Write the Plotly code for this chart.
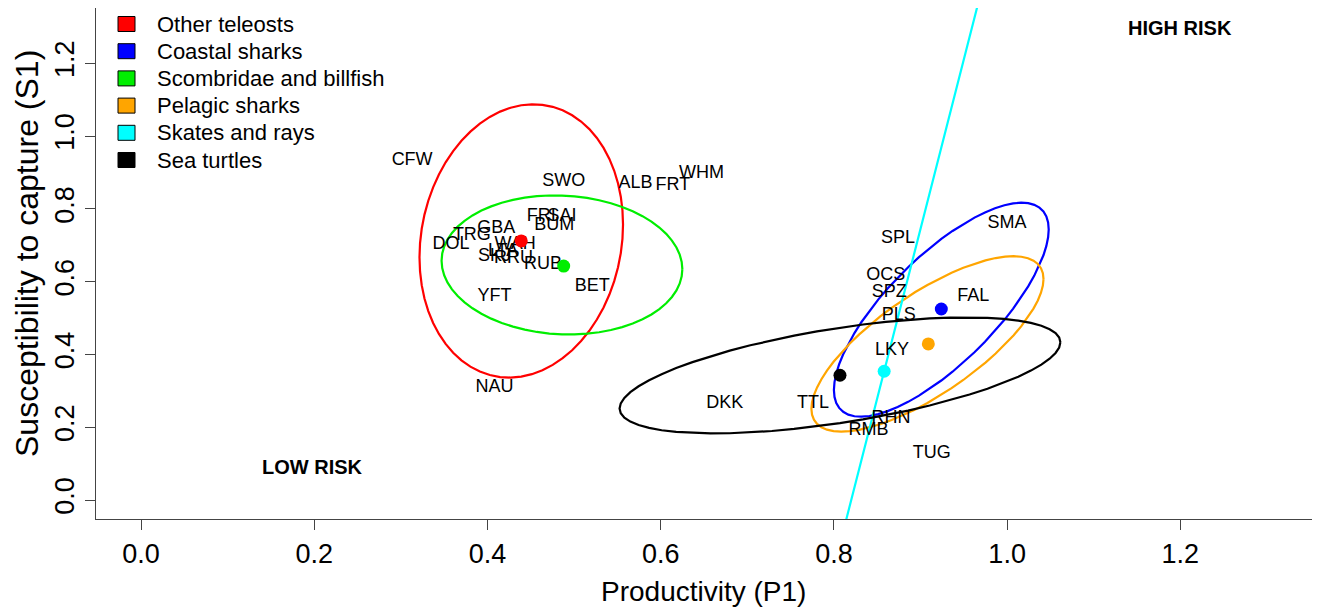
import numpy as np
import plotly.graph_objects as go

# ---------------- data ----------------
groups = ["Other teleosts", "Coastal sharks", "Scombridae and billfish",
          "Pelagic sharks", "Skates and rays", "Sea turtles"]
group_colors = ["#FF0000", "#0000FF", "#00EE00", "#FFA500", "#00FFFF", "#000000"]
mean_p = [0.439, 0.924, 0.488, 0.909, 0.858, 0.807]
mean_s = [0.712, 0.525, 0.643, 0.429, 0.354, 0.343]

# ellipse parameters (spread in P, spread in S, correlation)
ell_sx = [0.1175, 0.124, 0.139, 0.134, 0.16, 0.2545]
ell_sy = [0.3755, 0.294, 0.191, 0.241, 1.49, 0.1595]
ell_r = [0.12, 0.75, -0.06, 0.74, 1.0, 0.57]
ell_cx = [0.439, 0.924, 0.486, 0.908, 0.858, 0.807]
ell_cy = [0.712, 0.523, 0.646, 0.429, 0.354, 0.3425]

species = ["CFW", "SWO", "ALB", "FRT", "WHM", "FRI", "SAI", "BUM", "GBA", "TRG",
           "DOL", "WAH", "LTA", "SKJ", "RRU", "RUB", "YFT", "BET", "NAU", "DKK",
           "TTL", "SPL", "SMA", "OCS", "SPZ", "FAL", "PLS", "LKY", "RHN", "RMB", "TUG"]
prod = [0.313, 0.488, 0.571, 0.614, 0.647, 0.462, 0.486, 0.477, 0.410, 0.382,
        0.358, 0.432, 0.418, 0.408, 0.430, 0.464, 0.408, 0.521, 0.408, 0.674,
        0.776, 0.874, 1.000, 0.860, 0.864, 0.961, 0.875, 0.867, 0.866, 0.840, 0.913]
susc = [0.934, 0.874, 0.871, 0.863, 0.898, 0.778, 0.780, 0.755, 0.745, 0.728,
        0.701, 0.703, 0.684, 0.668, 0.665, 0.646, 0.560, 0.588, 0.310, 0.264,
        0.266, 0.720, 0.761, 0.618, 0.571, 0.558, 0.508, 0.412, 0.225, 0.192, 0.129]

ticks = [0.0, 0.2, 0.4, 0.6, 0.8, 1.0, 1.2]
tick_text = ["0.0", "0.2", "0.4", "0.6", "0.8", "1.0", "1.2"]
risk_labels = ["LOW RISK", "HIGH RISK"]
risk_p = [0.198, 1.200]
risk_s = [0.091, 1.297]

FONT = "Liberation Sans, Arial, Helvetica, sans-serif"
OFF = 8                      # default page body margin
W, H = 1320 - OFF, 614 - OFF
ML, MR, MT, MB = 96 - OFF, 8, 8 - OFF, 95
PW, PH = W - ML - MR, H - MT - MB
PLOT_LEFT = OFF + ML          # page pixel of plot left edge
PLOT_BOTTOM = OFF + H - MB    # page pixel of plot bottom edge


def px_to_paper_x(px):
    return (px - PLOT_LEFT) / PW


def py_to_paper_y(py):
    return (PLOT_BOTTOM - py) / PH


fig = go.Figure()

# ellipses
t = np.linspace(0, 2 * np.pi, 61)
for i in range(len(groups)):
    phi = np.arccos(ell_r[i])
    ex = ell_cx[i] + ell_sx[i] * np.cos(t)
    ey = ell_cy[i] + ell_sy[i] * np.cos(t - phi)
    fig.add_trace(go.Scatter(x=ex, y=ey, mode="lines",
                             line=dict(color=group_colors[i], width=2.2),
                             showlegend=False, hoverinfo="skip"))

# species labels
fig.add_trace(go.Scatter(x=prod, y=susc, mode="text", text=species,
                         textposition="middle center",
                         textfont=dict(family=FONT, size=18, color="#000000"),
                         showlegend=False))

# group means
for i in range(len(groups)):
    fig.add_trace(go.Scatter(x=[mean_p[i]], y=[mean_s[i]], mode="markers",
                             marker=dict(color=group_colors[i], size=13, line=dict(width=0)),
                             name=groups[i], showlegend=False))

# risk annotations
for lab, px, py in zip(risk_labels, risk_p, risk_s):
    fig.add_annotation(x=px, y=py, text="<b>" + lab + "</b>", showarrow=False,
                       font=dict(family=FONT, size=20, color="#000000"),
                       xanchor="center", yanchor="middle")

# manual legend (R style)
shapes = []
for i, g in enumerate(groups):
    cy_px = 24 + 27.2 * i
    shapes.append(dict(type="rect", xref="paper", yref="paper",
                       x0=px_to_paper_x(118), x1=px_to_paper_x(135),
                       y0=py_to_paper_y(cy_px + 7.5), y1=py_to_paper_y(cy_px - 7.5),
                       fillcolor=group_colors[i], line=dict(color="#000000", width=1)))
    fig.add_annotation(xref="paper", yref="paper", x=px_to_paper_x(155),
                       y=py_to_paper_y(cy_px), text=g, showarrow=False,
                       xanchor="left", yanchor="middle",
                       font=dict(family=FONT, size=22, color="#000000"))

# axis titles
fig.add_annotation(xref="paper", yref="paper", x=px_to_paper_x(703), y=py_to_paper_y(591),
                   text="Productivity (P1)", showarrow=False, xanchor="center", yanchor="middle",
                   font=dict(family=FONT, size=28, color="#000000"))
fig.add_annotation(xref="paper", yref="paper", x=px_to_paper_x(27), y=py_to_paper_y(254),
                   text="Susceptibility to capture (S1)", showarrow=False, textangle=-90,
                   xanchor="center", yanchor="middle",
                   font=dict(family=FONT, size=32, color="#000000"))

axis_common = dict(showgrid=False, zeroline=False, showline=True, mirror=True,
                   linecolor="#444444", linewidth=1.2, ticks="outside", ticklen=10,
                   tickcolor="#444444", tickwidth=1, tickvals=ticks, ticktext=tick_text,
                   tickfont=dict(family=FONT, size=27, color="#000000"))
fig.update_layout(
    width=W, height=H,
    margin=dict(l=ML, r=MR, t=MT, b=MB, pad=0),
    paper_bgcolor="white", plot_bgcolor="white",
    shapes=shapes,
    xaxis=dict(range=[-0.052, 1.352], **axis_common),
    yaxis=dict(range=[-0.052, 1.352], tickangle=-90, **axis_common),
    showlegend=False,
)

fig.write_html("out.html")
